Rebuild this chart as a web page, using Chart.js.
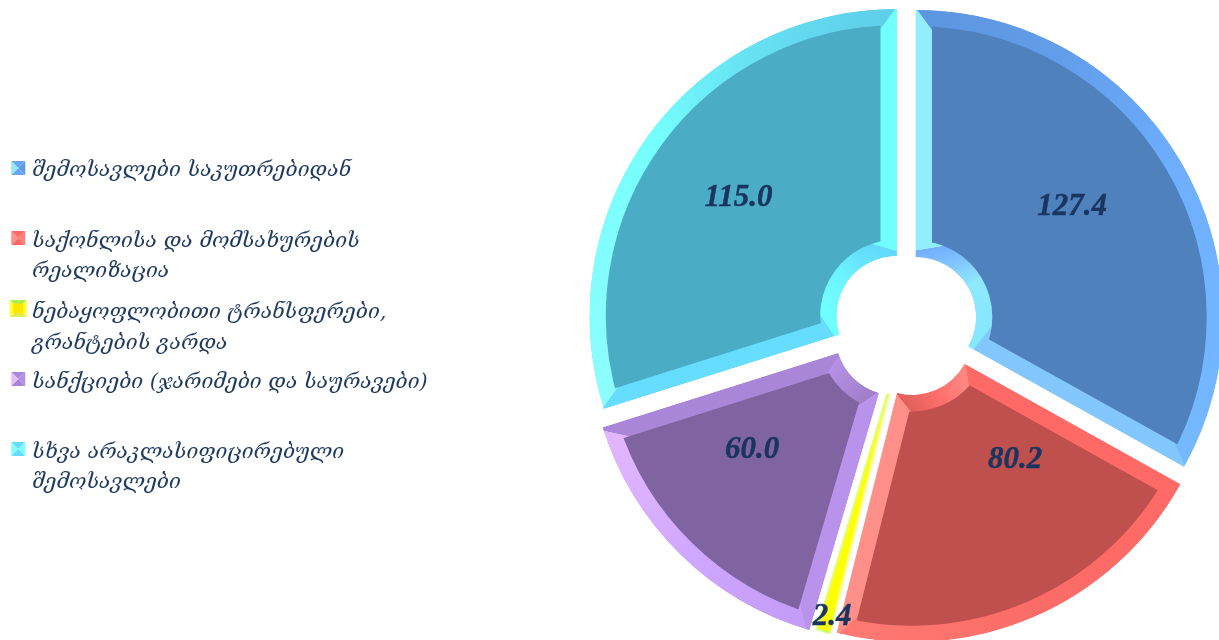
<!DOCTYPE html>
<html><head><meta charset="utf-8">
<style>html,body{margin:0;padding:0;background:#fff;overflow:hidden}canvas{display:block}</style>
<script src="https://cdn.jsdelivr.net/npm/chart.js@4"></script>
</head><body>
<canvas id="c" width="1219" height="640"></canvas>
<script>
const categories = [
  ["შემოსავლები საკუთრებიდან"],
  ["საქონლისა და მომსახურების", "რეალიზაცია"],
  ["ნებაყოფლობითი ტრანსფერები,", "გრანტების გარდა"],
  ["სანქციები (ჯარიმები და საურავები)"],
  ["სხვა არაკლასიფიცირებული", "შემოსავლები"]
];
const values = [127.4, 80.2, 2.4, 60.0, 115.0];
const valueLabels = ["127.4", "80.2", "2.4", "60.0", "115.0"];

const faceColors = ["#4f81bd", "#c0504d", "#ffff00", "#8064a2", "#4bacc6"];
// bevel: outerStart, outerMid, outerEnd, endSide, innerEnd, innerMid, innerStart, startSide
const bevels = [
  ["#5d96e0", "#6eaeff", "#74b8ff", "#82c8ff", "#84e8ff", "#90e8ff", "#74aeff", "#92eeff"],
  ["#ff6a66", "#fa6c68", "#ff7872", "#ff8f89", "#e0605c", "#ff6e6a", "#ff8a85", "#ff6a66"],
  ["#ccff80", "#ccff80", "#ccff80", "#e4ff66", "#ccff80", "#ccff80", "#ccff80", "#fbff8c"],
  ["#c39cf7", "#d0a8ff", "#e2b6ff", "#aa86d9", "#b590e6", "#ab88d8", "#a07ec8", "#b992ec"],
  ["#8cfdff", "#74ffff", "#5ecfea", "#70ffff", "#62d8fb", "#6cf4ff", "#70ffff", "#66dcff"]
];
const bevelWidths = [16, 16, 2, 16, 16];
const swatches = [
  ["#6aa6f6", "#5c9ae8", "#6aa6f6", "#92e6ff"],
  ["#ff6a66", "#ff7f7a", "#ff6a66", "#ff8f89"],
  ["#aaee55", "#ffff33", "#ddee55", "#ffff33"],
  ["#aa88dc", "#b490e4", "#a884d8", "#e4bcff"],
  ["#66dcff", "#7dffff", "#66dcff", "#7dffff"]
];

const R = 307, R0 = 60;
const sliceCenters = [[916,317],[912,335],[904,336],[895.5,335.4],[896.5,316]];
const anglePad = [0, 0, 0.005, 0, 0];
const labelPos = [[1072,207],[1015,460],[832,617],[752,450],[738.5,198]];
const legendY = [[171],[242,272],[313,344],[383],[453,483]];
const swatchY = [168,238,308.5,379,449];
const swatchSize = [14,14,17,14,14];
const TEXT = "#1f3a5f";
const VALUE_TEXT = "#1a3560";
const LEGEND_FONT = "italic 20.9px 'DejaVu Serif'";
const VALUE_FONT = "italic bold 31px 'Liberation Serif'";

const explode = {
  id: "explode",
  afterDatasetsUpdate(chart) {
    const meta = chart.getDatasetMeta(0);
    const c2 = chart.ctx;
    meta.data.forEach((arc, i) => {
      arc.startAngle -= anglePad[i];
      arc.endAngle += anglePad[i];
      arc.circumference += 2 * anglePad[i];
      const mid = (arc.startAngle + arc.endAngle) / 2;
      arc.x = sliceCenters[i][0];
      arc.y = sliceCenters[i][1];
      arc.outerRadius = R;
      arc.innerRadius = R0;
      const rc = (R + R0) / 2;
      const cx = arc.x + rc * Math.cos(mid), cy = arc.y + rc * Math.sin(mid);
      const w = bevelWidths[i];
      const corner = (rad, ang) => Math.atan2(arc.y + rad * Math.sin(ang) - cy, arc.x + rad * Math.cos(ang) - cx);
      const da = (w / 2) / R, db = (w / 2) / (R0 + w / 2);
      const aOS = corner(R - w / 2, arc.startAngle + da);
      const aOE = corner(R - w / 2, arc.endAngle - da);
      const aIE = corner(R0 + w / 2, arc.endAngle - db);
      const aIS = corner(R0 + w / 2, arc.startAngle + db);
      const norm = a => { let f = (a - aOS) / (2 * Math.PI); f -= Math.floor(f); return f; };
      const g = c2.createConicGradient(aOS, cx, cy);
      const b = bevels[i];
      const f1 = norm(aOE), f2 = norm(aIE), f3 = norm(aIS);
      g.addColorStop(0, b[0]); g.addColorStop(f1 / 2, b[1]); g.addColorStop(f1, b[2]);
      g.addColorStop(f1 + 0.0005, b[3]); g.addColorStop(f2, b[3]);
      g.addColorStop(f2 + 0.0005, b[4]); g.addColorStop((f2 + f3) / 2, b[5]); g.addColorStop(f3, b[6]);
      g.addColorStop(f3 + 0.0005, b[7]); g.addColorStop(0.9995, b[7]);
      g.addColorStop(1, b[0]);
      arc.options = Object.assign({}, arc.options, { borderColor: g });
    });
  },
  afterDatasetsDraw(chart) {
    const ctx = chart.ctx;
    ctx.save();
    ctx.fillStyle = VALUE_TEXT;
    ctx.strokeStyle = VALUE_TEXT;
    ctx.lineWidth = 0.4;
    ctx.font = VALUE_FONT;
    ctx.textAlign = "center";
    ctx.textBaseline = "middle";
    valueLabels.forEach((t, i) => {
      ctx.fillText(t, labelPos[i][0], labelPos[i][1]);
      ctx.strokeText(t, labelPos[i][0], labelPos[i][1]);
    });
    ctx.textAlign = "left";
    ctx.font = LEGEND_FONT;
    categories.forEach((lines, i) => {
      ctx.fillStyle = TEXT;
      lines.forEach((t, j) => ctx.fillText(t, 32, legendY[i][j]));
      const s = swatches[i], z = swatchSize[i], cx = 18.25, cy = swatchY[i], x = cx - z / 2, y = cy - z / 2;
      const pts = [[x, y], [x + z, y], [x + z, y + z], [x, y + z]];
      pts.forEach((p, k) => {
        const q = pts[(k + 1) % 4];
        ctx.fillStyle = s[k];
        ctx.beginPath(); ctx.moveTo(p[0], p[1]); ctx.lineTo(q[0], q[1]); ctx.lineTo(cx, cy); ctx.closePath(); ctx.fill();
      });
      if (i === 2) { ctx.fillStyle = "#ffe600"; ctx.fillRect(cx - 5, cy - 5, 10, 10); }
    });
    ctx.restore();
  }
};

new Chart(document.getElementById("c"), {
  type: "doughnut",
  data: {
    labels: categories.map(l => l.join(" ")),
    datasets: [{
      data: values,
      backgroundColor: faceColors,
      borderColor: faceColors,
      borderWidth: bevelWidths,
      borderAlign: "inner",
      borderJoinStyle: "miter"
    }]
  },
  options: {
    responsive: false,
    animation: false,
    events: [],
    cutout: R0,
    radius: R,
    plugins: { legend: { display: false }, tooltip: { enabled: false } }
  },
  plugins: [explode]
});
</script>
</body></html>
